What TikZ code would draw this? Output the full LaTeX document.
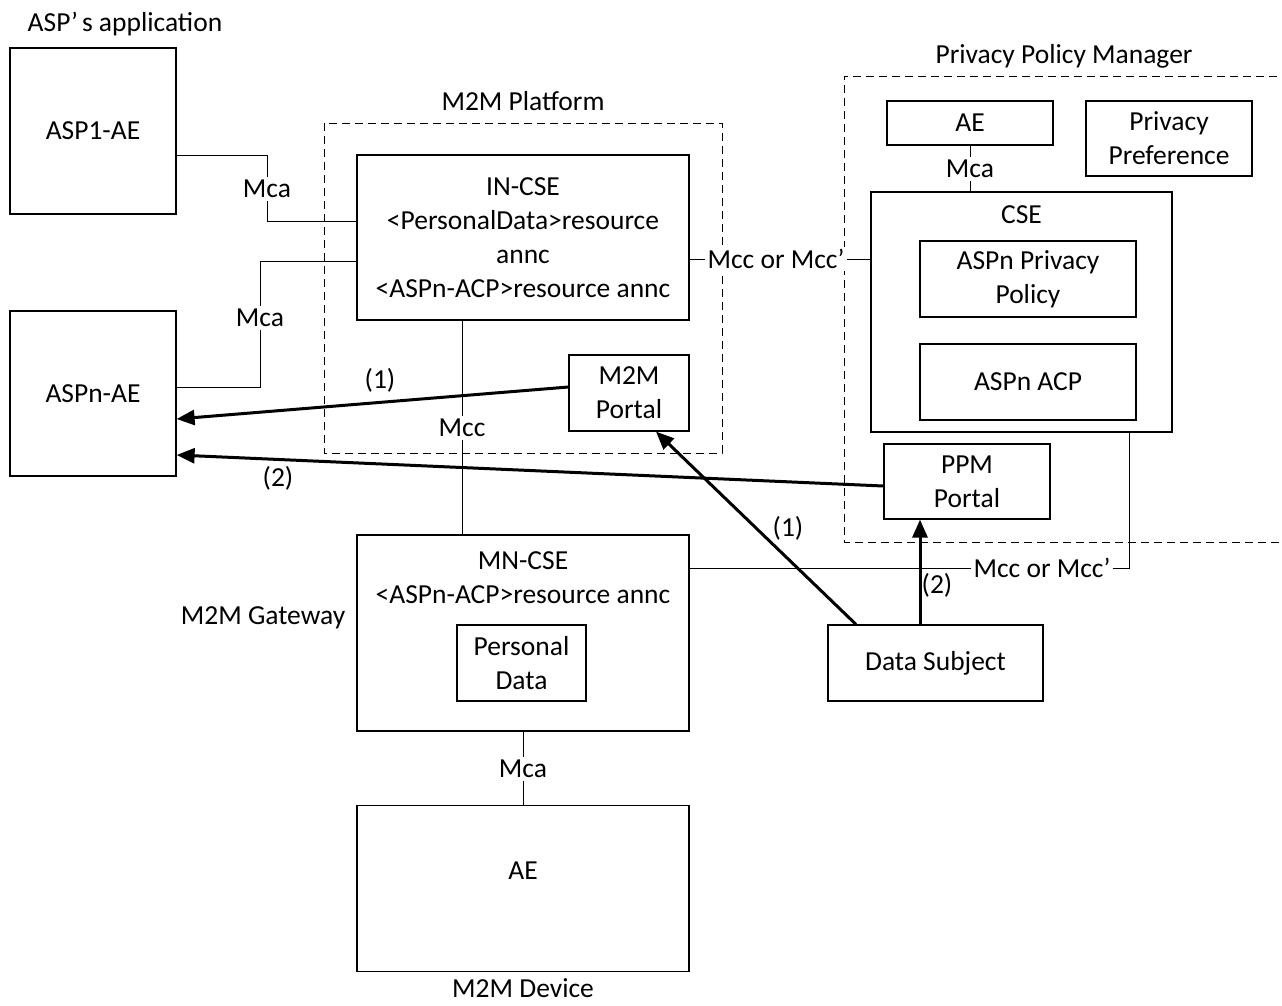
\documentclass[tikz,border=0pt]{standalone}
\usepackage{fontspec}
\setmainfont{Carlito}
\usetikzlibrary{arrows.meta}
\begin{document}
\begin{tikzpicture}[x=1pt,y=-1pt,
  every node/.style={font=\fontsize{27.5}{34}\selectfont},
  box/.style={draw, line width=1.2pt, inner sep=0pt, align=center},
  lbl/.style={inner sep=3pt, align=center},
  wlbl/.style={inner sep=2pt, fill=white},
  conn/.style={line width=1pt},
  dashbox/.style={line width=1pt, dash pattern=on 8pt off 5pt},
  arr/.style={line width=3pt, -{Triangle[length=18pt,width=15pt]}}
]
\useasboundingbox (0,0) rectangle (1282,1005);

% dashed groups
\draw[dashbox] (324,123) rectangle (722,453);
\draw[dashbox] (1290,76) -- (844,76) -- (844,542) -- (1290,542);

% titles
\node[lbl] (tasp) at (125,24) {ASP’\hspace{4pt}s application};
\node[lbl] (tplat) at (523,101) {M2M Platform};
\node[lbl] (tppm) at (1064,56) {Privacy Policy Manager};
\node[lbl] (tgw) at (263,618) {M2M Gateway};
\node[lbl] (tdev) at (523,988) {M2M Device};

% left boxes
\node[box, minimum width=166pt, minimum height=166pt] (asp1) at (93,131) {ASP1-AE};
\node[box, minimum width=166pt, minimum height=165pt] (aspn) at (93,393.5) {ASPn-AE};

% platform
\node[box, minimum width=332pt, minimum height=165pt] (incse) at (523,237.5)
  {IN-CSE\\ <PersonalData>resource\\ annc\\ <ASPn-ACP>resource annc};
\node[box, minimum width=120pt, minimum height=76pt] (portal) at (629,393) {M2M\\ Portal};

% gateway
\node[box, minimum width=332pt, minimum height=196pt] (mncse) at (523,633) {};
\node[lbl] (mntxt) at (523,578) {MN-CSE\\ <ASPn-ACP>resource annc};
\node[box, minimum width=129pt, minimum height=76pt] (pdata) at (521.5,663) {Personal\\ Data};

% device
\node[box, minimum width=332pt, minimum height=166pt] (devae) at (523,888.5) {};
\node[lbl] (devtxt) at (523,871) {AE};

% PPM
\node[box, minimum width=166pt, minimum height=44pt] (ppmae) at (970,123) {AE};
\node[box, minimum width=166pt, minimum height=75pt] (pref) at (1169,138.5) {Privacy\\ Preference};
\node[box, minimum width=301pt, minimum height=240pt] (cse) at (1021.5,312) {};
\node[lbl] (csetxt) at (1021.5,215) {CSE};
\node[box, minimum width=216pt, minimum height=76pt] (policy) at (1028,279) {ASPn Privacy\\ Policy};
\node[box, minimum width=216pt, minimum height=76pt] (acp) at (1028,382) {ASPn ACP};
\node[box, minimum width=166pt, minimum height=75pt] (ppmportal) at (967,481.5) {PPM\\ Portal};

% data subject
\node[box, minimum width=215pt, minimum height=76pt] (ds) at (935.5,663) {Data Subject};

% Mca connectors left
\node[lbl] (mca1) at (267,189) {Mca};
\draw[conn] ([yshift=-24pt]asp1.east) -| (mca1);
\draw[conn] (mca1) |- ([yshift=16.5pt]incse.west);
\node[lbl] (mca2) at (260,318) {Mca};
\draw[conn] ([yshift=-23.5pt]incse.west) -| (mca2);
\draw[conn] (mca2) |- ([yshift=6.5pt]aspn.east);

% Mcc
\node[lbl] (mcc) at (462,428) {Mcc};
\draw[conn] (incse.south -| mcc) -- (mcc);
\draw[conn] (mcc) -- (mncse.north -| mcc);

% Mcc or Mcc' top
\node[wlbl] (mccA) at (776,259) {Mcc or Mcc’\hspace{6pt}};
\draw[conn] (incse.east |- mccA) -- (mccA);
\draw[conn] (mccA) -- (cse.west |- mccA);

% Mcc or Mcc' bottom
\node[wlbl] (mccB) at (1042,568) {Mcc or Mcc’\hspace{4pt}};
\draw[conn] (mncse.east |- mccB) -- (mccB);
\draw[conn] (mccB) -| ([xshift=107.5pt]cse.south);

% Mca PPM
\node[lbl] (mca3) at (970,169) {Mca};
\draw[conn] (ppmae) -- (mca3);
\draw[conn] (mca3) -- (cse.north -| mca3);

% Mca device
\node[lbl] (mca4) at (523,769) {Mca};
\draw[conn] (mncse) -- (mca4);
\draw[conn] (mca4) -- (devae);

% arrows
\draw[arr] ([yshift=6pt]portal.west) -- ([yshift=-25.5pt]aspn.east);
\draw[arr] ([yshift=-4.5pt]ppmportal.west) -- ([yshift=-61.5pt]aspn.east);
\draw[arr] ([xshift=-79.5pt]ds.north) -- ([xshift=27pt]portal.south);
\draw[arr] ([xshift=-15.5pt]ds.north) -- ([xshift=-47pt]ppmportal.south);

% step labels
\node[lbl] (s1a) at (380,380) {(1)};
\node[lbl] (s2a) at (278,478) {(2)};
\node[lbl] (s1b) at (788,528) {(1)};
\node[lbl] (s2b) at (937,585) {(2)};
\end{tikzpicture}
\end{document}
